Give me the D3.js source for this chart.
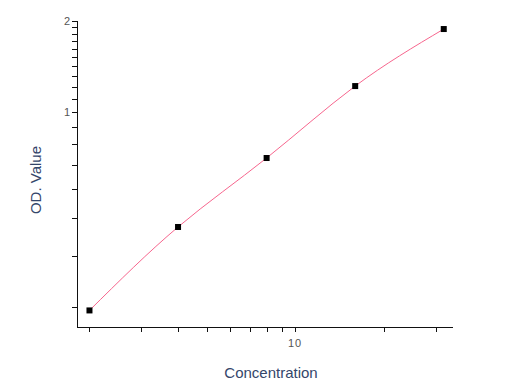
<!DOCTYPE html>
<html>
<head>
<meta charset="utf-8">
<script src="https://cdn.jsdelivr.net/npm/d3@7"></script>
<style>
  body { margin: 0; background: #fff; }
  svg { display: block; font-family: "Liberation Sans", Arial, sans-serif; }
</style>
</head>
<body>
<svg id="chart" width="508" height="386"></svg>
<script>
// standard curve points
var concentration = [2, 4, 8, 16, 32];
var odValue = [0.295, 0.474, 0.731, 1.206, 1.873];

var xTicksMajor = [10];
var xTicksMinor = [2, 3, 4, 5, 6, 7, 8, 9, 20, 30];
var yTicksMajor = [1, 2];
var yTicksMinor = [0.3, 0.4, 0.5, 0.6, 0.7, 0.8, 0.9, 1.1, 1.2, 1.3, 1.4, 1.5, 1.6, 1.7, 1.8, 1.9];

var svg = d3.select("#chart");
// note: "top" is taken by window.top, so use plot* names
var plotLeft = 77, plotRight = 453, plotTop = 21, plotBottom = 327;

var x = d3.scaleLog().domain([1.814, 34.4]).range([plotLeft, plotRight]);
// the y axis of the source software is compressed below 1, a power scale fits it
var y = d3.scalePow().exponent(-0.22).domain([0.27, 2]).range([plotBottom, plotTop]);

var axisColor = "#111";

// x axis
svg.append("line")
    .attr("x1", plotLeft).attr("x2", plotRight)
    .attr("y1", plotBottom + 0.5).attr("y2", plotBottom + 0.5)
    .attr("stroke", axisColor);
svg.append("g").selectAll("line")
    .data(xTicksMajor.concat(xTicksMinor))
    .enter().append("line")
    .attr("x1", function(d) { return Math.round(x(d)) + 0.5; })
    .attr("x2", function(d) { return Math.round(x(d)) + 0.5; })
    .attr("y1", plotBottom)
    .attr("y2", plotBottom + 5)
    .attr("stroke", axisColor);
svg.append("g").selectAll("text")
    .data(xTicksMajor)
    .enter().append("text")
    .attr("x", function(d) { return x(d); })
    .attr("y", plotBottom + 20)
    .attr("text-anchor", "middle")
    .attr("fill", "#555")
    .style("font-size", "11px")
    .style("letter-spacing", "1px")
    .text(function(d) { return d; });

// y axis
svg.append("line")
    .attr("x1", plotLeft + 0.5).attr("x2", plotLeft + 0.5)
    .attr("y1", plotTop).attr("y2", plotBottom + 1)
    .attr("stroke", axisColor);
svg.append("g").selectAll("line")
    .data(yTicksMajor.concat(yTicksMinor))
    .enter().append("line")
    .attr("x1", plotLeft - 5)
    .attr("x2", plotLeft)
    .attr("y1", function(d) { return Math.round(y(d)) + 0.5; })
    .attr("y2", function(d) { return Math.round(y(d)) + 0.5; })
    .attr("stroke", axisColor);
svg.append("g").selectAll("text")
    .data(yTicksMajor)
    .enter().append("text")
    .attr("x", plotLeft - 7)
    .attr("y", function(d) { return y(d) + 4; })
    .attr("text-anchor", "end")
    .attr("fill", "#555")
    .style("font-size", "11px")
    .text(function(d) { return d; });

// axis titles
svg.append("text")
    .attr("x", 271)
    .attr("y", 378)
    .attr("text-anchor", "middle")
    .attr("fill", "#34466a")
    .style("font-size", "15px")
    .text("Concentration");
svg.append("text")
    .attr("transform", "translate(41,180) rotate(-90)")
    .attr("text-anchor", "middle")
    .attr("fill", "#34466a")
    .style("font-size", "15px")
    .text("OD. Value");

// fitted curve
var pts = concentration.map(function(c, i) { return [c, odValue[i]]; });
var line = d3.line()
    .x(function(d) { return x(d[0]); })
    .y(function(d) { return y(d[1]); })
    .curve(d3.curveNatural);
svg.append("path")
    .datum(pts)
    .attr("d", line)
    .attr("fill", "none")
    .attr("stroke", "#f7668e")
    .attr("stroke-width", 1);

// points
svg.append("g").selectAll("rect")
    .data(pts)
    .enter().append("rect")
    .attr("x", function(d) { return x(d[0]) - 3; })
    .attr("y", function(d) { return y(d[1]) - 3; })
    .attr("width", 6)
    .attr("height", 6)
    .attr("fill", "#000");
</script>
</body>
</html>
